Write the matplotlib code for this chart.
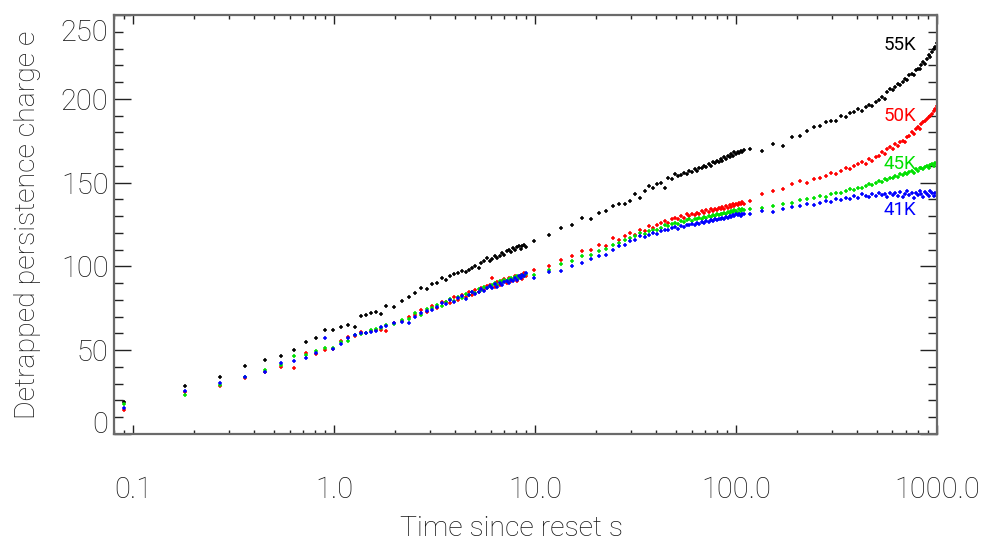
import matplotlib
matplotlib.use("Agg")
import matplotlib.pyplot as plt
import matplotlib.ticker as mticker
from matplotlib.transforms import ScaledTranslation

# ---------------- data ----------------
time_s = [
    0.09, 0.18, 0.27, 0.36, 0.45, 0.54, 0.63, 0.72, 0.81, 0.90,
    0.99, 1.08, 1.17, 1.26, 1.35, 1.44, 1.53, 1.62, 1.71, 1.80,
    1.98, 2.16, 2.34, 2.52, 2.70, 2.88, 3.06, 3.24, 3.42, 3.60,
    3.78, 3.96, 4.14, 4.32, 4.50, 4.68, 4.86, 5.04, 5.22, 5.40,
    5.58, 5.76, 5.94, 6.12, 6.30, 6.48, 6.66, 6.84, 7.02, 7.20,
    7.38, 7.56, 7.74, 7.92, 8.10, 8.28, 8.46, 8.64, 8.82, 9.00,
    9.9, 11.7, 13.5, 15.3, 17.1, 18.9, 20.7, 22.5, 24.3, 26.1,
    27.9, 29.7, 31.5, 33.3, 35.1, 36.9, 38.7, 40.5, 42.3, 44.1,
    45.9, 47.7, 49.5, 51.3, 53.1, 54.9, 56.7, 58.5, 60.3, 62.1,
    63.9, 65.7, 67.5, 69.3, 71.1, 72.9, 74.7, 76.5, 78.3, 80.1,
    81.9, 83.7, 85.5, 87.3, 89.1, 90.9, 92.7, 94.5, 96.3, 98.1,
    99.9, 101.7, 103.5, 105.3, 107.1, 108.9,
    117, 135, 153, 171, 189, 207, 225, 243, 261, 279,
    297, 315, 333, 351, 369, 387, 405, 423, 441, 459,
    477, 495, 513, 531, 549, 567, 585, 603, 621, 639,
    657, 675, 693, 711, 729, 747, 765, 783, 801, 819,
    837, 855, 873, 891, 909, 927, 945, 963, 981, 999,
]

charge_55K = [
    19.2, 28.4, 34.3, 40.5, 44.0, 46.8, 50.0, 54.6, 57.0, 61.9,
    62.0, 63.7, 65.3, 63.7, 70.2, 71.2, 72.4, 72.8, 71.4, 76.4,
    76.0, 79.4, 82.0, 84.0, 87.0, 86.5, 89.3, 90.0, 93.0, 92.0,
    94.0, 95.5, 96.0, 97.0, 96.5, 97.8, 99.0, 100.0, 99.0, 102.0,
    103.0, 105.0, 103.0, 104.5, 106.0, 105.0, 106.0, 108.0, 107.0, 109.0,
    110.0, 108.5, 111.0, 110.0, 111.5, 112.0, 110.5, 112.0, 113.0, 111.5,
    115, 119, 123, 124.5, 129, 128, 132, 133, 136, 137.5,
    137, 139, 143, 141, 145, 148, 147, 149, 150, 147,
    153, 152, 155, 154, 154.5, 156, 155, 157, 156.5, 158,
    157, 159, 158.5, 160, 159.5, 161, 160, 162, 161.5, 163,
    162, 164, 163, 165, 164, 166, 165, 167, 166, 168,
    167, 168.5, 167.5, 169, 168, 169.5,
    170, 169, 173, 172, 177, 178, 181, 183, 184, 186,
    187, 186.5, 190, 189, 191.5, 192, 194, 193, 195, 196.5,
    196, 198, 199, 201, 200, 204, 206, 205, 207, 209,
    208, 210, 212, 211, 214, 215, 214, 217, 218, 217.5,
    220, 222, 221, 224, 226, 225, 228, 230, 231, 233,
]

charge_50K = [
    14.5, 24.8, 28.6, 33.5, 37.0, 39.9, 39.3, 48.6, 48.0, 50.0,
    51.0, 55.5, 58.0, 58.2, 60.7, 60.1, 61.2, 62.0, 62.0, 61.5,
    66.0, 67.5, 70.0, 71.0, 74.0, 73.0, 76.5, 75.0, 78.5, 79.0,
    78.0, 81.5, 80.0, 83.0, 82.0, 84.5, 83.0, 86.0, 84.5, 87.0,
    86.0, 88.5, 89.0, 93.0, 88.0, 90.5, 89.0, 91.0, 92.5, 90.0,
    93.0, 91.5, 92.0, 94.0, 91.0, 93.5, 95.0, 92.5, 96.0, 94.0,
    98, 100, 104, 106, 109, 110, 113, 112, 117, 116,
    118, 120, 119, 122, 121, 124, 123, 125, 126, 127,
    126, 128, 129, 128, 130, 129, 131, 130, 131.5, 130.5,
    132, 131, 133, 132, 133.5, 132.5, 134, 133, 134.5, 133.5,
    135, 134, 135.5, 134.5, 136, 135, 136.5, 135.5, 137, 136,
    137.5, 136.5, 138, 137, 138.5, 137.5,
    139, 143, 145, 146, 149, 151, 150, 152, 153, 154,
    156, 155, 157, 159, 158, 160, 161, 162, 161, 164,
    163, 165, 166, 168, 167, 170, 171, 170, 173, 172,
    174, 175, 174, 177, 178, 180, 179, 182, 183, 182,
    185, 186, 187, 188, 189, 190, 191, 193, 194, 196,
]

charge_45K = [
    17.7, 23.2, 29.3, 34.0, 37.9, 41.0, 46.6, 47.2, 49.6, 51.2,
    51.2, 55.0, 55.2, 59.3, 59.5, 60.5, 61.9, 62.9, 63.0, 65.0,
    65.5, 68.0, 68.5, 72.0, 71.0, 74.5, 75.0, 77.0, 76.5, 79.0,
    80.5, 79.5, 82.0, 81.0, 83.5, 83.0, 85.0, 84.0, 86.5, 86.0,
    87.5, 87.0, 88.5, 89.0, 90.0, 89.0, 91.0, 90.5, 92.0, 91.0,
    92.5, 93.0, 92.0, 93.5, 94.0, 93.0, 94.5, 95.0, 94.0, 95.5,
    95, 98, 101.5, 103, 106, 107, 109, 110.5, 113, 114,
    116, 117, 118, 120, 119.5, 121, 122, 121.5, 123, 124.5,
    124, 125.5, 126, 125.5, 127, 126.5, 127.5, 128, 127, 128.5,
    128, 129, 128.5, 129.5, 129, 130, 129.5, 130.5, 130, 131,
    130.5, 131.5, 131, 132, 131.5, 132.5, 132, 133, 132.5, 133.5,
    133, 132, 134, 133, 134.5, 133.5,
    134, 135, 136, 137.5, 138, 139.5, 140, 141, 142, 141.5,
    143, 144, 143.5, 145, 146, 145.5, 147, 146.5, 148, 149,
    148.5, 150, 151, 150.5, 152, 151.5, 153, 152.5, 154, 153.5,
    155, 154.5, 156, 155, 156.5, 157, 156, 158, 157, 158.5,
    159, 158, 159.5, 160, 159, 160.5, 161, 160, 161.5, 161,
]

charge_41K = [
    15.5, 25.6, 30.2, 34.1, 37.1, 42.1, 43.5, 45.2, 48.6, 57.5,
    50.6, 53.6, 57.1, 58.9, 60.1, 60.5, 60.9, 61.5, 64.0, 64.5,
    66.0, 67.0, 66.5, 70.0, 72.0, 73.5, 74.0, 76.0, 78.0, 77.5,
    80.0, 79.0, 81.0, 82.5, 80.5, 83.0, 84.5, 83.5, 85.0, 86.5,
    85.5, 87.0, 88.5, 87.0, 89.5, 88.0, 90.0, 89.0, 90.5, 91.5,
    90.0, 92.0, 91.0, 93.0, 92.0, 94.0, 93.0, 95.0, 94.5, 96.0,
    93, 96.5, 97, 100, 102, 104.5, 106, 107, 110, 112,
    113, 115, 116, 118, 117.5, 119, 120, 119.5, 121, 122,
    121.5, 123, 123.5, 122.5, 124, 123.5, 125, 124.5, 125.5, 125,
    126, 125.5, 126.5, 126, 127, 126.5, 127.5, 127, 128, 127.5,
    128.5, 128, 129, 128.5, 129.5, 129, 130, 129.5, 130.5, 130,
    131, 130.5, 131, 130, 131.5, 131,
    131.5, 133, 132.5, 134, 135.5, 136, 137, 136.5, 138, 139,
    138.5, 140, 139.5, 141, 140.5, 142, 141, 143, 142, 141.5,
    143, 142, 144, 142.5, 143, 141.5, 144, 142.5, 143.5, 142,
    144.5, 141.5, 143, 145, 142.5, 143.5, 141, 144, 142.5, 145,
    143, 141.5, 144.5, 143, 142, 145, 143.5, 142, 144, 142,
]

series_labels = ["55K", "50K", "45K", "41K"]
series_colors = ["#000000", "#ff0000", "#00e000", "#0000ff"]
x_tick_values = [0.1, 1.0, 10.0, 100.0, 1000.0]
x_tick_labels = ["0.1", "1.0", "10.0", "100.0", "1000.0"]
y_tick_values = [0, 50, 100, 150, 200, 250]
y_tick_labels = ["0", "50", "100", "150", "200", "250"]

# ---------------- figure ----------------
plt.rcParams["font.family"] = ["Roboto", "DejaVu Sans"]
plt.rcParams["font.weight"] = "light"
fig = plt.figure(figsize=(9.88, 5.42), dpi=100)
ax = fig.add_axes([114 / 988, 1 - 434 / 542, (937 - 114) / 988, (434 - 15) / 542])

series = [charge_55K, charge_50K, charge_45K, charge_41K]
for vals, col in zip(series, series_colors):
    ax.plot(time_s, vals, linestyle="none", marker="+", markersize=3.0,
            markeredgewidth=1.1, color=col)

ax.set_xscale("log")
ax.set_xlim(0.08, 1000)
ax.set_ylim(0, 250)

txt_color = "#151515"
fs_tick = 21
fs_label = 20.5
ax.xaxis.set_major_locator(mticker.FixedLocator(x_tick_values))
ax.xaxis.set_major_formatter(mticker.FixedFormatter(x_tick_labels))
ax.xaxis.set_minor_locator(mticker.LogLocator(base=10, subs=range(2, 10), numticks=20))
ax.xaxis.set_minor_formatter(mticker.NullFormatter())

ax.yaxis.set_major_locator(mticker.FixedLocator(y_tick_values))
shown_y = ["" if (i == 0 or i == len(y_tick_labels) - 1) else s
           for i, s in enumerate(y_tick_labels)]
ax.yaxis.set_major_formatter(mticker.FixedFormatter(shown_y))
ax.yaxis.set_minor_locator(mticker.MultipleLocator(10))

ax.tick_params(axis="both", which="both", direction="in", colors="#222222",
               labelcolor=txt_color, width=1.0)
ax.tick_params(axis="x", which="major", length=6.5, top=True, bottom=True,
               labelsize=fs_tick, pad=30)
ax.tick_params(axis="x", which="minor", length=3, top=True, bottom=True)
ax.tick_params(axis="y", which="major", length=12.5, left=True, right=True,
               labelsize=fs_tick, pad=4)
ax.tick_params(axis="y", which="minor", length=6.5, left=True, right=True)

for sp in ax.spines.values():
    sp.set_color("#6a6a6a")
    sp.set_linewidth(1.6)

# end labels of the y axis are drawn shifted inward as in the reference
ytrans = ax.get_yaxis_transform()
ax.text(-0.0075, y_tick_values[0], y_tick_labels[0],
        transform=ytrans + ScaledTranslation(0, 9 / 100, fig.dpi_scale_trans),
        ha="right", va="center", fontsize=fs_tick, color=txt_color, fontweight="light")
ax.text(-0.0075, y_tick_values[-1], y_tick_labels[-1],
        transform=ytrans + ScaledTranslation(0, -18 / 100, fig.dpi_scale_trans),
        ha="right", va="center", fontsize=fs_tick, color=txt_color, fontweight="light")

ax.set_xlabel("Time since reset s", fontsize=fs_label, color=txt_color,
              va="center", fontweight="light")
ax.xaxis.set_label_coords((511 - 114) / 823, -(528 - 434) / 419)
ax.set_ylabel("Detrapped persistence charge e", fontsize=fs_label, color=txt_color,
              va="center", fontweight="light")
ax.yaxis.set_label_coords(-(114 - 28) / 823, 0.5)

label_y = [0.928, 0.759, 0.644, 0.535]
for lab, col, yy in zip(series_labels, series_colors, label_y):
    ax.text(0.9745, yy, lab, transform=ax.transAxes, ha="right", va="center",
            fontsize=13.5, color=col, fontweight="normal")

fig.savefig("out.png", dpi=100)
